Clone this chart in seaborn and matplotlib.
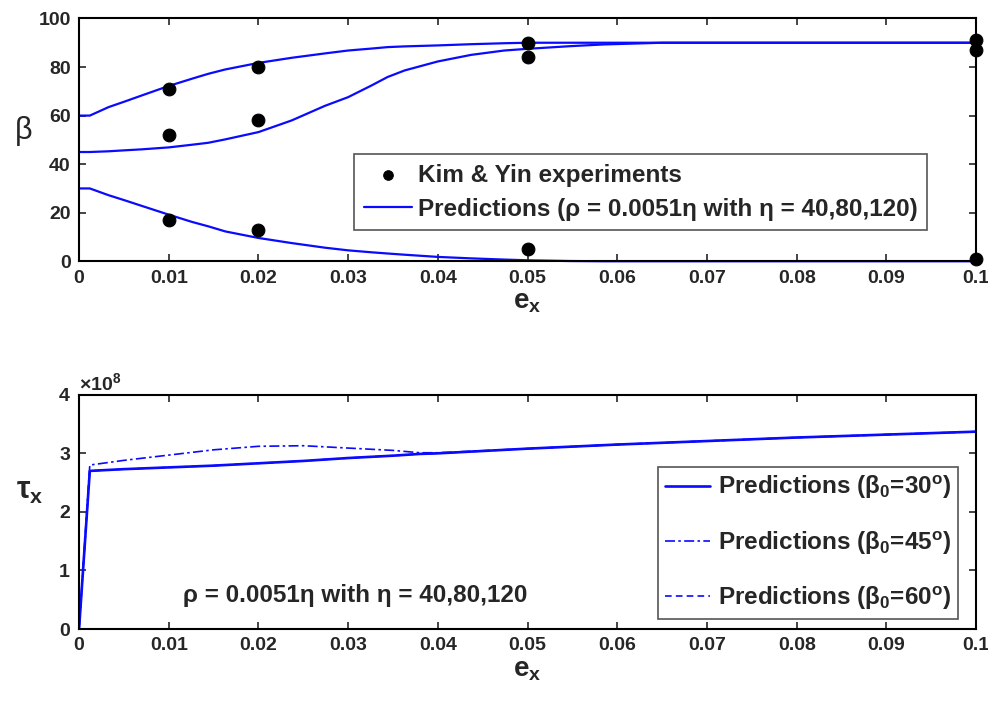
import numpy as np
import pandas as pd
import matplotlib
matplotlib.use("Agg")
import matplotlib.pyplot as plt
from matplotlib.ticker import ScalarFormatter, FixedLocator
import seaborn as sns

sns.set_style("ticks")
plt.rcParams["font.family"] = ["Liberation Sans", "DejaVu Sans"]
plt.rcParams["font.weight"] = "bold"
plt.rcParams["mathtext.fontset"] = "custom"
plt.rcParams["mathtext.rm"] = "Liberation Sans:bold"
plt.rcParams["mathtext.it"] = "Liberation Sans:bold"
plt.rcParams["mathtext.bf"] = "Liberation Sans:bold"
plt.rcParams["mathtext.default"] = "regular"

BLUE = "#0a0aff"
TEXT_SIZE = 17.5

# ---- experiments (Kim & Yin) ----
exp_strain = [0.01, 0.01, 0.01, 0.02, 0.02, 0.02, 0.05, 0.05, 0.05, 0.1, 0.1, 0.1]
exp_beta = [71, 52, 17, 80, 58, 13, 90, 84, 5, 91, 87, 1]

# ---- predicted fibre angle beta vs strain ----
beta_strain = [0.0, 0.0012, 0.0033, 0.0051, 0.007, 0.01, 0.0126, 0.0144,
               0.0163, 0.02, 0.0237, 0.0274, 0.03, 0.0326, 0.0344, 0.0363,
               0.04, 0.0437, 0.0474, 0.05, 0.0548, 0.0585, 0.065, 0.1]
beta_pred_60 = [60, 60, 63.5, 65.8, 68.3, 72.2, 75.2, 77.2,
                79, 81.7, 83.8, 85.6, 86.8, 87.6, 88.2, 88.5,
                88.9, 89.4, 89.8, 90, 90, 90, 90, 90]
beta_pred_45 = [45, 45, 45.3, 45.7, 46.1, 46.9, 48, 48.8,
                50.2, 53.2, 58, 64, 67.6, 72.4, 75.9, 78.6,
                82.3, 85, 86.8, 87.5, 88.6, 89.3, 90, 90]
beta_pred_30 = [30, 30, 27.2, 25.1, 22.8, 19.2, 16.2, 14.4,
                12.3, 9.6, 7.5, 5.6, 4.5, 3.7, 3.2, 2.7,
                1.8, 1.2, 0.7, 0.4, 0.1, 0, 0, 0]

# ---- predicted shear stress tau_x vs strain (x 1e8) ----
tau_strain = [0.0, 0.0012, 0.005, 0.01, 0.015, 0.02, 0.025, 0.03, 0.035,
              0.038, 0.04, 0.05, 0.06, 0.07, 0.08, 0.09, 0.1]
tau_pred_30 = [0.0, 2.70, 2.73, 2.76, 2.79, 2.83, 2.87, 2.92, 2.96,
               2.99, 3.00, 3.08, 3.15, 3.21, 3.27, 3.32, 3.37]
tau_pred_45 = [0.0, 2.80, 2.88, 2.97, 3.06, 3.12, 3.13, 3.09, 3.05,
               3.01, 3.01, 3.08, 3.15, 3.21, 3.27, 3.32, 3.37]
tau_pred_60 = [0.0, 2.70, 2.73, 2.76, 2.79, 2.83, 2.87, 2.92, 2.96,
               2.99, 3.00, 3.08, 3.15, 3.21, 3.27, 3.32, 3.37]

x_ticks = [0, 0.01, 0.02, 0.03, 0.04, 0.05, 0.06, 0.07, 0.08, 0.09, 0.1]
x_tick_labels = ["0", "0.01", "0.02", "0.03", "0.04", "0.05",
                 "0.06", "0.07", "0.08", "0.09", "0.1"]
beta_ticks = [0, 20, 40, 60, 80, 100]
tau_ticks = [0, 1e8, 2e8, 3e8, 4e8]

fig = plt.figure(figsize=(9.88, 7.10), dpi=100)
ax1 = fig.add_axes([0.080, 0.632, 0.908, 0.342])
ax2 = fig.add_axes([0.080, 0.114, 0.908, 0.330])


def style_axis(ax):
    ax.set_xlim(0, 0.1)
    ax.xaxis.set_major_locator(FixedLocator(x_ticks))
    ax.set_xticklabels(x_tick_labels)
    ax.tick_params(direction="in", length=5, width=1.2, top=True, right=True,
                   labelsize=14, pad=6)
    for lab in ax.get_xticklabels() + ax.get_yticklabels():
        lab.set_fontweight("bold")
    for sp in ax.spines.values():
        sp.set_linewidth(1.5)
        sp.set_color("black")
    ax.set_xlabel(r"e$_x$", fontsize=20, fontweight="bold", labelpad=2)


# ---- top panel ----
exp_df = pd.DataFrame({"strain": exp_strain, "beta": exp_beta})
sns.scatterplot(data=exp_df, x="strain", y="beta", ax=ax1, color="black",
                s=85, edgecolor="black", zorder=5, clip_on=False,
                label="Kim & Yin experiments")
first = True
for series in (beta_pred_60, beta_pred_45, beta_pred_30):
    df = pd.DataFrame({"strain": beta_strain, "beta": series})
    sns.lineplot(data=df, x="strain", y="beta", ax=ax1, color=BLUE, lw=1.6,
                 estimator=None, sort=False, clip_on=False,
                 label=("Predictions (ρ = 0.0051η with η = 40,80,120)" if first else None))
    first = False
ax1.set_ylim(0, 100)
ax1.set_yticks(beta_ticks)
style_axis(ax1)
ax1.set_ylabel("β", fontsize=22, fontweight="normal", rotation=0, va="center")
ax1.yaxis.set_label_coords(-0.062, 0.535)
leg1 = ax1.legend(loc="upper left", bbox_to_anchor=(0.307, 0.44),
                  borderaxespad=0, fancybox=False, framealpha=1,
                  edgecolor="#555555", fontsize=TEXT_SIZE, handlelength=2.0,
                  handletextpad=0.25, labelspacing=0.45, borderpad=0.38,
                  markerscale=0.75)
leg1.get_frame().set_linewidth(1.2)

# ---- bottom panel ----
tau_sets = [
    (tau_pred_30, "-", 1.9, r"Predictions (β$_0$=30$^o$)"),
    (tau_pred_45, (0, (6, 2, 1.5, 2)), 1.2, r"Predictions (β$_0$=45$^o$)"),
    (tau_pred_60, (0, (4, 2.5)), 1.2, r"Predictions (β$_0$=60$^o$)"),
]
for vals, ls, lw, lab in tau_sets:
    df = pd.DataFrame({"strain": tau_strain, "tau": np.array(vals) * 1e8})
    sns.lineplot(data=df, x="strain", y="tau", ax=ax2, color=BLUE, lw=lw,
                 linestyle=ls, estimator=None, sort=False, label=lab)
ax2.set_ylim(0, 4e8)
ax2.set_yticks(tau_ticks)
fmt = ScalarFormatter(useMathText=True)
fmt.set_powerlimits((0, 0))
ax2.yaxis.set_major_formatter(fmt)
style_axis(ax2)
ax2.yaxis.get_offset_text().set_fontsize(14)
ax2.set_ylabel(r"τ$_x$", fontsize=22, fontweight="bold", rotation=0, va="center")
ax2.yaxis.set_label_coords(-0.055, 0.59)
ax2.text(0.0308, 0.58e8, "ρ = 0.0051η with η = 40,80,120", ha="center",
         va="center", fontsize=TEXT_SIZE)
leg2 = ax2.legend(loc="upper right", bbox_to_anchor=(0.98, 0.69),
                  borderaxespad=0, fancybox=False, framealpha=1,
                  edgecolor="#555555", fontsize=TEXT_SIZE, handlelength=1.85,
                  handletextpad=0.35, labelspacing=1.15, borderpad=0.28)
leg2.get_frame().set_linewidth(1.2)

fig.savefig("out.png", dpi=100)
